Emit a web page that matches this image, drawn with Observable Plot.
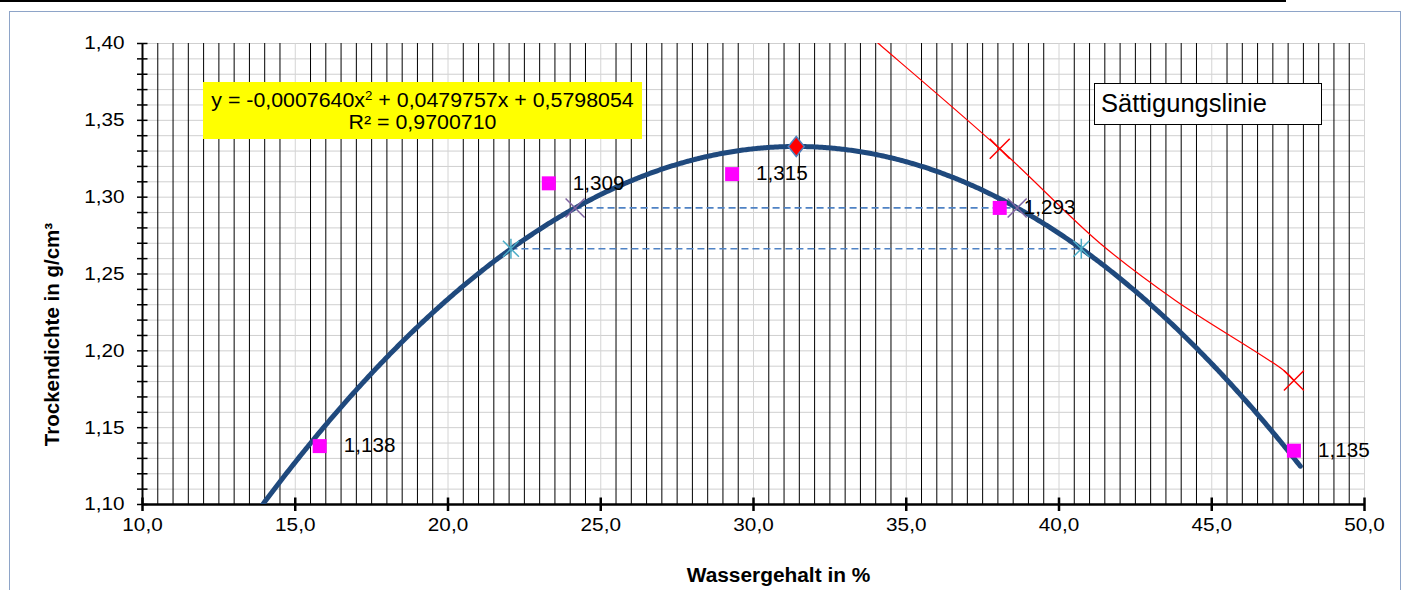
<!DOCTYPE html>
<html>
<head>
<meta charset="utf-8">
<script src="https://cdn.jsdelivr.net/npm/d3@7"></script>
<script src="https://cdn.jsdelivr.net/npm/@observablehq/plot@0.6"></script>
<style>
  html, body { margin: 0; padding: 0; background: #fff; }
  #wrap { position: relative; width: 1404px; height: 590px; overflow: hidden; font-family: "Liberation Sans", Arial, sans-serif; }
  #wrap svg { position: absolute; left: 0; top: 0; }
  #border { position: absolute; left: 9px; top: 11px; width: 1392px; height: 620px; border: 1px solid #8ea4c8; box-sizing: border-box; }
  #topline { position: absolute; left: 0; top: 0; width: 1286px; height: 2px; background: #000; }
  #eq { position: absolute; left: 203px; top: 82px; width: 439px; height: 57px; background: #ffff00; box-sizing: border-box; padding-top: 6.7px; }
  #eq div { font-size: 19.6px; line-height: 22.5px; text-align: center; color: #000; white-space: nowrap; transform: scaleX(1.09); transform-origin: 50% 50%; }
  #eq sup { font-size: 0.62em; line-height: 0; vertical-align: 0.55em; }
  #legend { position: absolute; left: 1094px; top: 83px; width: 228px; height: 42px; background: #fff; border: 1.5px solid #000; box-sizing: border-box; padding-left: 6px; padding-top: 4.4px; }
  #legend div { font-size: 25.5px; line-height: 30px; color: #000; white-space: nowrap; }
  #ytitle { position: absolute; left: 0; top: 0; font-size: 20.5px; line-height: 20.5px; font-weight: bold; color: #000; white-space: nowrap;
            transform-origin: 0 0; transform: translate(59px, 334.5px) rotate(-90deg) translate(-50%, -17.35px); }
</style>
</head>
<body>
<div id="wrap">
  <div id="border"></div>
  <div id="topline"></div>
</div>
<script>
// ---- data ----
const waterContent = [15.8, 23.3, 29.3, 38.06, 47.69];        // Wassergehalt in %
const dryDensity   = [1.138, 1.309, 1.315, 1.293, 1.135];     // Trockendichte in g/cm³
const pointLabels  = ["1,138", "1,309", "1,315", "1,293", "1,135"];

// polynomial trendline as printed on the chart: y = a x² + b x + c
const trendCoef  = [-0.0007640, 0.0479757, 0.5798054];
const trendRange = [13.0, 47.9];
const trendText  = ["y = -0,0007640x", "2", " + 0,0479757x + 0,5798054", "R² = 0,9700710"];

const satLineWater   = [33.8, 34.09, 38.06, 41.36, 43.81, 47.36, 47.69];
const satLineDensity = [1.405, 1.400, 1.3315, 1.2697, 1.2328, 1.1872, 1.1807];
const satMarkWater   = [38.06, 47.69];
const satMarkDensity = [1.3315, 1.1807];

// Proctor optimum
const optWater   = [31.4];
const optDensity = [1.333];

// 97 % and 95 % levels and their intersections with the trendline
const levelDensity = [1.293, 1.2664];
const levelLeft    = [24.16, 22.06];
const levelRight   = [38.63, 40.73];

// axes
const xDomain = [10, 50];
const yDomain = [1.10, 1.40];
const xTicks = [10, 15, 20, 25, 30, 35, 40, 45, 50];
const xTickLabels = ["10,0", "15,0", "20,0", "25,0", "30,0", "35,0", "40,0", "45,0", "50,0"];
const yTicks = [1.10, 1.15, 1.20, 1.25, 1.30, 1.35, 1.40];
const yTickLabels = ["1,10", "1,15", "1,20", "1,25", "1,30", "1,35", "1,40"];
const yMinorTicks = d3.range(0, 31).map(i => +(1.10 + i * 0.01).toFixed(2));
const xMinorGrid = d3.range(0, 81).map(i => 10 + i * 0.5).filter(v => v % 5 !== 0);
const xMajorGrid = [15, 20, 25, 30, 35, 40, 45, 50];
const xTitle = "Wassergehalt in %";
const yTitle = "Trockendichte in g/cm³";
const legendText = "Sättigungslinie";

// ---- custom symbols ----
const hTick = { draw(c) { c.moveTo(-5.5, 0); c.lineTo(5, 0); } };
const vTick = { draw(c) { c.moveTo(0, -7); c.lineTo(0, 6.5); } };
const xMark = h => ({ draw(c) { c.moveTo(-h, -h); c.lineTo(h, h); c.moveTo(-h, h); c.lineTo(h, -h); } });
const starMark = h => ({ draw(c) { c.moveTo(-h, -h); c.lineTo(h, h); c.moveTo(-h, h); c.lineTo(h, -h); c.moveTo(0, -h * 1.25); c.lineTo(0, h * 1.25); } });
const squareMark = { draw(c) { c.rect(-7, -7, 14, 14); } };
const diamondMark = { draw(c) { c.moveTo(0, -10); c.lineTo(8, 0); c.lineTo(0, 10); c.lineTo(-8, 0); c.closePath(); } };

const trendX = d3.range(trendRange[0], trendRange[1] + 1e-9, 0.05);
const trendY = x => trendCoef[0] * x * x + trendCoef[1] * x + trendCoef[2];

const plot = Plot.plot({
  width: 1404,
  height: 590,
  marginLeft: 142,
  marginRight: 40,
  marginTop: 43,
  marginBottom: 86,
  style: { fontFamily: "'Liberation Sans', Arial, sans-serif", background: "transparent", overflow: "visible" },
  x: { domain: xDomain, axis: null },
  y: { domain: yDomain, axis: null },
  marks: [
    Plot.ruleY(yMinorTicks, { stroke: "#cfcfcf", strokeWidth: 1 }),
    Plot.ruleX(xMajorGrid, { stroke: "#d4d4d4", strokeWidth: 1 }),
    Plot.ruleX(xMinorGrid, { stroke: "#000", strokeWidth: 1 }),
    Plot.ruleX([xDomain[0]], { stroke: "#000", strokeWidth: 2 }),
    Plot.ruleY([yDomain[0]], { stroke: "#000", strokeWidth: 2.5 }),
    Plot.dot(yMinorTicks, { y: d => d, frameAnchor: "left", symbol: hTick, stroke: "#000", fill: "none", strokeWidth: 1.5 }),
    Plot.dot(xTicks, { x: d => d, frameAnchor: "bottom", symbol: vTick, stroke: "#000", fill: "none", strokeWidth: 2.5 }),
    Plot.text(yTicks, { y: d => d, frameAnchor: "left", dx: -18, textAnchor: "end", text: (d, i) => yTickLabels[i], fontSize: 18.5, fill: "#000" }),
    Plot.text(xTicks, { x: d => d, frameAnchor: "bottom", dy: 26, text: (d, i) => xTickLabels[i], fontSize: 18.5, fill: "#000" }),
    Plot.text([xTitle], { text: d => d, frameAnchor: "bottom", dx: 25, dy: 77, lineAnchor: "bottom", fontWeight: "bold", fontSize: 19.5, fill: "#000" }),
    // dashed 97 % / 95 % levels
    Plot.ruleY(levelDensity, { y: d => d, x1: (d, i) => levelLeft[i], x2: (d, i) => levelRight[i], stroke: "#4f82c4", strokeWidth: 1.6, strokeDasharray: "7,4" }),
    // saturation line
    Plot.line(satLineWater, { x: d => d, y: (d, i) => satLineDensity[i], curve: "catmull-rom", stroke: "#ff0000", strokeWidth: 1.2, clip: true }),
    // trendline
    Plot.line(trendX, { x: d => d, y: d => trendY(d), stroke: "#1f497d", strokeWidth: 5, clip: true }),
    // level intersection markers
    Plot.dot([levelLeft[0], levelRight[0]], { x: d => d, y: levelDensity[0], symbol: xMark(9.5), stroke: "#8064a2", fill: "none", strokeWidth: 1.5 }),
    Plot.dot([levelLeft[1], levelRight[1]], { x: d => d, y: levelDensity[1], symbol: starMark(8), stroke: "#4bacc6", fill: "none", strokeWidth: 1.5 }),
    // saturation markers
    Plot.dot(satMarkWater, { x: d => d, y: (d, i) => satMarkDensity[i], symbol: xMark(10), stroke: "#ff0000", fill: "none", strokeWidth: 1.5 }),
    // optimum
    Plot.dot(optWater, { x: d => d, y: (d, i) => optDensity[i], symbol: diamondMark, fill: "#ff0000", stroke: "#4f81bd", strokeWidth: 1.5 }),
    // measured points
    Plot.dot(waterContent, { x: d => d, y: (d, i) => dryDensity[i], symbol: squareMark, fill: "#ff00ff", stroke: "none" }),
    Plot.text(waterContent, { x: d => d, y: (d, i) => dryDensity[i], text: (d, i) => pointLabels[i], dx: 24, textAnchor: "start", fontSize: 19.5, fill: "#000" })
  ]
});

const wrap = document.getElementById("wrap");
wrap.insertBefore(plot, wrap.firstChild);

// y axis title (rotated)
const yt = document.createElement("div");
yt.id = "ytitle";
yt.textContent = yTitle;
wrap.append(yt);

// equation box and legend label
const eq = document.createElement("div");
eq.id = "eq";
const l1 = document.createElement("div");
l1.append(trendText[0]);
const sup = document.createElement("sup"); sup.textContent = trendText[1];
l1.append(sup, trendText[2]);
const l2 = document.createElement("div");
l2.textContent = trendText[3];
eq.append(l1, l2);
wrap.append(eq);

const lg = document.createElement("div");
lg.id = "legend";
const lt = document.createElement("div");
lt.textContent = legendText;
lg.append(lt);
wrap.append(lg);

// slight horizontal stretch of chart texts, as in the reference rendering
plot.querySelectorAll("text").forEach(t => {
  const s = t.textContent;
  let f = 1;
  if (xTickLabels.includes(s) || yTickLabels.includes(s)) f = 1.12;
  else if (pointLabels.includes(s)) f = 1.06;
  else if (s === xTitle) f = 1.07;
  if (f !== 1) {
    const w = t.getComputedTextLength();
    t.setAttribute("textLength", (w * f).toFixed(2));
    t.setAttribute("lengthAdjust", "spacingAndGlyphs");
  }
});
</script>
</body>
</html>
